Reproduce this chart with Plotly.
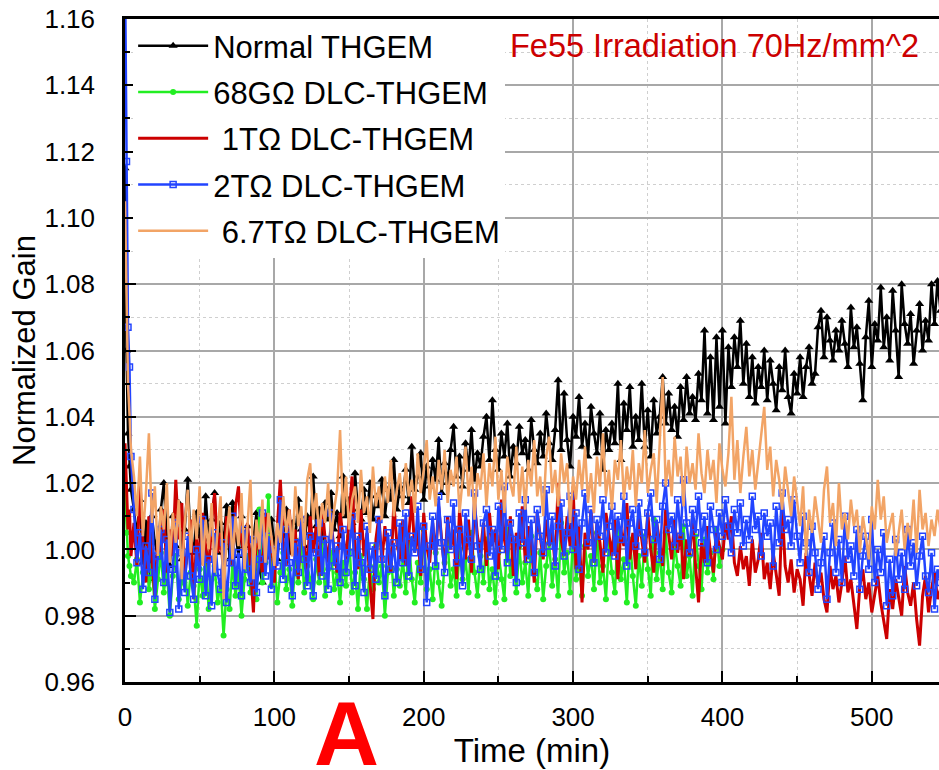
import plotly.graph_objects as go

# ---------------- data ----------------
time_min = [0, 1, 2, 3, 4] + list(range(6, 547, 2))

normal_thgem = [
    1.115, 1.060, 1.035, 1.025, 1.018,
    1.012, 1.004, 1.015, 0.996, 1.008, 0.991, 1.010, 1.002, 0.998, 1.012,
    1.020, 1.003, 0.995, 1.010, 1.001, 1.014, 0.997, 1.006, 1.021, 1.002,
    0.999, 1.011, 1.004, 0.996, 1.016, 1.003, 1.009, 1.017, 0.999, 1.008,
    1.002, 1.013, 0.997, 1.014, 1.005, 0.998, 1.010, 1.001, 1.007, 0.996,
    1.003, 1.011, 0.994, 0.990, 1.006, 0.998, 1.009, 1.002, 0.997, 1.008,
    1.004, 1.012, 0.999, 1.008, 1.003, 1.015, 1.006, 1.001, 1.010, 1.005,
    1.022, 1.007, 1.012, 1.003, 1.014, 1.009, 1.017, 1.006, 1.011, 1.004,
    1.022, 1.010, 1.015, 1.008, 1.023, 1.012, 1.009, 1.018, 1.011, 1.020,
    1.009, 1.016, 1.013, 1.021, 1.010, 1.018, 1.015, 1.027, 1.012, 1.019,
    1.016, 1.024, 1.014, 1.031, 1.018, 1.022, 1.029, 1.015, 1.025, 1.019,
    1.027, 1.021, 1.033, 1.017, 1.026, 1.020, 1.030, 1.037, 1.022, 1.028,
    1.019, 1.032, 1.024, 1.036, 1.021, 1.029, 1.025, 1.034, 1.040, 1.027,
    1.045, 1.030, 1.024, 1.035, 1.028, 1.038, 1.022, 1.031, 1.026, 1.037,
    1.029, 1.033, 1.024, 1.039, 1.030, 1.026, 1.035, 1.028, 1.041, 1.032,
    1.027, 1.036, 1.051, 1.030, 1.047, 1.033, 1.025, 1.040, 1.034, 1.046,
    1.031, 1.038, 1.028, 1.043, 1.035, 1.029, 1.041, 1.024, 1.036, 1.030,
    1.038, 1.032, 1.050, 1.027, 1.044, 1.036, 1.049, 1.031, 1.040, 1.033,
    1.050, 1.031, 1.042, 1.028, 1.045, 1.035, 1.040, 1.052, 1.038, 1.047,
    1.036, 1.043, 1.034, 1.049, 1.039, 1.052, 1.041, 1.046, 1.039, 1.053,
    1.045, 1.066, 1.041, 1.058, 1.039, 1.064, 1.043, 1.066, 1.038, 1.061,
    1.049, 1.064, 1.055, 1.069, 1.050, 1.062, 1.046, 1.058, 1.044, 1.055,
    1.049, 1.060, 1.045, 1.057, 1.050, 1.042, 1.055, 1.048, 1.060, 1.046,
    1.041, 1.053, 1.047, 1.058, 1.046, 1.055, 1.061, 1.050, 1.053, 1.067,
    1.072, 1.058, 1.070, 1.063, 1.057, 1.066, 1.060, 1.069, 1.062, 1.055,
    1.073, 1.061, 1.067, 1.056, 1.045, 1.064, 1.075, 1.055, 1.068, 1.063,
    1.079, 1.061, 1.070, 1.057, 1.078, 1.066, 1.052, 1.080, 1.068, 1.062,
    1.071, 1.056, 1.066, 1.074, 1.060, 1.069, 1.063, 1.080, 1.068, 1.081,
    1.072,
]

dlc_68g = [
    1.018, 1.005, 0.998, 0.995, 0.992,
    0.990, 0.997, 0.984, 0.993, 1.000, 0.988, 0.995, 0.982, 0.991, 0.999,
    0.987, 0.994, 0.980, 0.992, 0.998, 0.985, 0.990, 0.996, 0.983, 0.993,
    0.989, 0.977, 0.994, 0.986, 0.999, 0.982, 0.991, 0.995, 0.984, 0.990,
    0.974, 0.988, 0.982, 0.996, 0.986, 0.993, 0.980, 0.991, 0.998, 0.987,
    0.994, 0.985, 1.012, 0.990, 0.996, 1.016, 0.989, 0.997, 0.984, 0.993,
    0.999, 0.988, 0.994, 0.983, 0.996, 0.990, 1.003, 0.987, 0.995, 0.991,
    0.985, 0.997, 0.990, 1.002, 0.986, 0.994, 0.999, 0.988, 0.993, 0.984,
    0.996, 0.989, 1.004, 0.987, 0.993, 0.982, 0.998, 0.991, 0.982, 0.995,
    0.988, 1.001, 0.990, 0.995, 0.980, 0.993, 0.999, 0.986, 0.994, 0.989,
    0.997, 0.987, 1.003, 0.991, 0.984, 0.996, 0.990, 1.006, 0.988, 0.994,
    0.985, 0.999, 0.990, 0.983, 0.996, 1.002, 0.989, 0.994, 0.986, 1.000,
    0.991, 0.997, 0.987, 1.005, 0.993, 0.986, 0.998, 0.990, 1.003, 0.988,
    0.994, 0.984, 0.999, 0.991, 0.985, 1.006, 0.992, 0.997, 0.987, 1.001,
    0.990, 0.996, 0.986, 1.004, 0.993, 0.988, 0.999, 0.985, 0.995, 1.002,
    0.989, 0.997, 0.986, 1.008, 0.993, 0.999, 0.987, 1.004, 0.991, 0.996,
    0.986, 1.001, 0.992, 0.998, 0.988, 1.005, 0.990, 0.995, 0.985, 1.002,
    0.993, 0.987, 1.006, 0.991, 0.997, 0.984, 1.003, 0.992, 0.983, 0.998,
    0.989, 1.004, 0.994, 0.986, 1.009, 0.991, 0.999, 0.988, 1.005, 0.993,
    0.987, 1.002, 0.995, 0.989, 1.007, 0.992, 0.998, 0.986, 1.004, 0.995,
    0.988, 1.003, 0.993, 0.999, 0.991, 1.006, 0.995, 1.000,
]

dlc_1t = [
    1.032, 1.018, 1.006, 1.012, 0.998,
    1.008, 0.995, 1.021, 1.002, 0.990, 1.010, 0.997, 0.986, 1.004, 0.999,
    1.012, 0.993, 1.006, 0.998, 1.021, 1.003, 1.014, 0.992, 1.000, 1.009,
    0.985, 1.004, 0.996, 1.011, 1.001, 0.994, 1.008, 1.017, 0.999, 1.005,
    0.992, 1.010, 1.002, 0.995, 1.013, 1.019, 1.003, 0.998, 1.008, 0.996,
    0.981, 1.006, 1.000, 0.993, 1.011, 0.997, 1.004, 0.990, 1.007, 1.021,
    1.002, 0.995, 1.012, 0.998, 1.006, 0.991, 1.009, 1.001, 0.994, 1.010,
    0.999, 1.007, 0.992, 1.013, 1.003, 0.996, 1.008, 1.000, 0.993, 1.011,
    1.004, 0.997, 1.009, 1.022, 1.001, 0.994, 1.012, 0.998, 1.005, 0.990,
    0.979, 1.003, 1.010, 0.996, 1.007, 1.000, 0.993, 1.014, 1.002, 0.997,
    1.009, 0.995, 1.004, 1.016, 0.999, 1.006, 0.992, 1.011, 1.001, 0.996,
    1.008, 0.998, 1.013, 1.003, 0.994, 1.010, 1.000, 1.006, 0.991, 1.012,
    1.002, 0.997, 1.009, 0.993, 1.014, 1.004, 0.999, 1.008, 0.995, 1.011,
    1.001, 1.006, 0.994, 1.015, 1.003, 0.998, 1.010, 0.992, 1.005, 1.000,
    1.013, 0.996, 1.007, 1.002, 0.990, 1.011, 1.004, 0.997, 1.009, 1.001,
    1.006, 0.995, 1.020, 1.003, 0.998, 1.010, 1.001, 1.019, 0.994, 1.007,
    0.984, 1.005, 1.000, 1.012, 0.996, 1.008, 1.002, 0.993, 1.011, 1.004,
    0.998, 1.009, 0.991, 1.006, 1.001, 1.014, 0.997, 1.005, 0.994, 1.010,
    1.003, 0.996, 1.011, 1.000, 0.993, 1.008, 1.002, 0.995, 1.012, 1.004,
    0.997, 1.009, 0.999, 1.006, 0.991, 1.003, 0.998, 1.010, 0.995, 0.984,
    1.002, 0.996, 1.007, 0.999, 0.993, 1.005, 1.001, 0.997, 1.008, 1.003,
    1.010, 0.996, 0.992, 1.001, 0.994, 0.998, 0.989, 1.003, 0.993, 0.997,
    1.005, 0.991, 0.996, 0.988, 0.999, 0.993, 0.986, 1.013, 0.995, 0.990,
    0.997, 0.987, 0.994, 0.991, 0.983, 0.999, 0.992, 0.986, 0.996, 0.989,
    0.993, 0.985, 0.981, 0.995, 0.988, 0.992, 0.984, 0.990, 0.998, 0.987,
    0.991, 0.983, 0.976, 0.989, 0.994, 0.985, 0.990, 0.981, 0.987, 0.992,
    0.984, 0.978, 0.973, 0.988, 0.982, 0.991, 0.986, 0.980, 0.995, 0.987,
    0.983, 0.990, 0.979, 0.971, 0.986, 0.992, 0.981, 0.988, 0.993, 0.985,
    0.988,
]

dlc_2t = [
    1.175, 1.117, 1.067, 1.055, 1.028,
    1.012, 0.996, 1.005, 0.988, 1.001, 0.993, 1.017, 0.985, 0.998, 1.006,
    0.990, 1.003, 0.981, 0.994, 1.008, 0.982, 0.999, 0.987, 1.004, 0.992,
    0.985, 1.000, 0.991, 1.009, 0.986, 0.997, 0.983, 1.005, 0.993, 0.988,
    1.002, 0.984, 0.996, 1.010, 0.989, 0.999, 0.986, 1.006, 0.994, 0.990,
    1.003, 0.987, 0.997, 1.011, 0.992, 1.004, 0.988, 1.000, 0.995, 1.015,
    0.991, 1.006, 0.996, 0.986, 1.002, 0.993, 1.009, 0.997, 0.989, 1.004,
    0.986, 0.999, 1.008, 0.992, 1.003, 0.988, 1.011, 0.995, 1.001, 0.990,
    1.006, 0.993, 0.999, 1.010, 0.989, 1.004, 0.996, 0.987, 1.007, 0.994,
    1.001, 0.991, 1.009, 0.997, 0.986, 1.005, 0.994, 1.002, 0.990, 1.008,
    0.996, 1.011, 0.992, 1.004, 0.999, 1.013, 0.994, 1.007, 0.984, 1.001,
    1.010, 0.995, 1.016, 1.002, 0.993, 1.009, 1.000, 1.014, 0.996, 1.006,
    0.989, 1.011, 1.003, 0.997, 1.017, 1.001, 0.994, 1.008, 1.012, 0.998,
    1.006, 0.992, 1.013, 1.000, 1.019, 0.996, 1.008, 1.003, 0.990, 1.011,
    1.002, 1.015, 0.997, 1.009, 0.993, 1.012, 1.004, 0.999, 1.018, 1.001,
    1.010, 0.995, 1.007, 1.014, 0.998, 1.005, 1.016, 1.000, 1.011, 0.994,
    1.008, 1.017, 1.002, 1.012, 0.996, 1.009, 1.004, 1.015, 0.999, 1.007,
    1.013, 0.998, 1.010, 1.003, 1.016, 0.995, 1.008, 1.012, 1.001, 1.014,
    1.005, 0.999, 1.011, 1.017, 1.003, 1.009, 0.997, 1.013, 1.020, 1.006,
    1.010, 1.001, 1.015, 1.004, 1.021, 1.008, 0.999, 1.012, 1.005, 1.016,
    1.002, 1.010, 0.996, 1.013, 1.006, 1.000, 1.011, 1.004, 1.015, 1.007,
    0.999, 1.012, 1.005, 1.014, 1.001, 1.009, 1.003, 1.016, 1.006, 1.010,
    0.998, 1.011, 1.004, 1.008, 0.995, 1.013, 1.002, 1.017, 1.006, 1.009,
    1.001, 1.015, 1.004, 0.996, 1.010, 1.002, 0.993, 1.007, 0.999, 0.988,
    0.996, 1.004, 0.985, 0.999, 1.008, 0.993, 1.003, 0.990, 1.010, 0.997,
    1.001, 0.992, 1.006, 0.988, 0.998, 1.004, 0.994, 1.009, 0.990, 1.000,
    0.993, 1.005, 0.983, 0.997, 0.986, 1.003, 0.991, 0.999, 0.988, 1.006,
    0.995, 1.002, 0.989, 0.998, 1.004, 0.992, 0.987, 0.999, 0.982, 0.994,
    0.990,
]

dlc_6p7t = [
    1.105, 1.072, 1.050, 1.041, 1.030,
    1.022, 1.010, 1.028, 1.004, 1.017, 1.035, 1.008, 1.019, 0.998, 1.013,
    1.006, 1.020, 0.996, 1.011, 1.002, 1.015, 0.991, 1.008, 1.018, 0.999,
    1.012, 1.003, 1.019, 0.995, 1.009, 1.000, 1.014, 0.993, 1.006, 1.016,
    0.985, 1.004, 1.013, 0.997, 1.010, 1.001, 1.017, 0.994, 1.007, 1.021,
    0.991, 1.009, 1.000, 1.015, 0.996, 1.011, 1.004, 0.995, 1.008, 1.002,
    1.016, 1.005, 1.012, 0.998, 1.019, 1.007, 1.013, 1.001, 1.021, 1.026,
    1.009, 1.017, 1.004, 1.014, 1.008, 1.020, 1.003, 1.012, 1.018, 1.036,
    1.010, 1.022, 1.006, 1.015, 1.019, 1.008, 1.024, 1.011, 1.016, 1.005,
    1.025, 1.013, 1.019, 1.009, 1.022, 1.014, 1.027, 1.010, 1.018, 1.023,
    1.012, 1.026, 1.016, 1.021, 1.011, 1.029, 1.017, 1.024, 1.033, 1.015,
    1.022, 1.013, 1.027, 1.018, 1.030, 1.014, 1.024, 1.019, 1.028, 1.011,
    1.021, 1.031, 1.016, 1.025, 1.009, 1.023, 1.018, 1.029, 1.013, 1.026,
    1.019, 1.034, 1.015, 1.024, 1.011, 1.028, 1.020, 1.016, 1.031, 1.014,
    1.025, 1.012, 1.027, 1.019, 1.033, 1.016, 1.022, 1.010, 1.028, 1.034,
    1.017, 1.024, 1.013, 1.029, 1.020, 1.026, 1.008, 1.022, 1.015, 1.027,
    1.018, 1.031, 1.014, 1.023, 1.011, 1.028, 1.019, 1.035, 1.016, 1.024,
    1.012, 1.027, 1.021, 1.033, 1.015, 1.025, 1.018, 1.030, 1.013, 1.026,
    1.020, 1.036, 1.017, 1.024, 1.029, 1.014, 1.032, 1.052, 1.019, 1.027,
    1.016, 1.034, 1.022, 1.028, 1.013, 1.031, 1.020, 1.026, 1.018, 1.035,
    1.023, 1.017, 1.030, 1.021, 1.027, 1.014, 1.032, 1.024, 1.019, 1.029,
    1.046, 1.021, 1.033, 1.017, 1.028, 1.037, 1.022, 1.030, 1.018, 1.026,
    1.034, 1.043, 1.024, 1.031, 1.016, 1.027, 1.021, 1.012, 1.025, 1.018,
    1.010, 1.022, 1.014, 1.007, 1.019, 0.998, 1.012, 1.005, 1.016, 1.009,
    1.002, 1.018, 1.025, 1.008, 1.014, 1.001, 1.020, 1.006, 1.011, 1.003,
    1.015, 1.007, 1.012, 0.999, 1.010, 1.004, 0.997, 1.013, 1.006, 1.021,
    1.009, 1.016, 1.002, 1.007, 1.011, 0.998, 1.005, 1.012, 1.000, 1.008,
    1.003, 1.015, 0.999, 1.018, 1.006, 1.011, 1.001, 1.009, 1.004, 1.012,
    1.006,
]

series_names = ["Normal THGEM", "68GΩ DLC-THGEM", " 1TΩ DLC-THGEM",
                "2TΩ DLC-THGEM", " 6.7TΩ DLC-THGEM"]
y_tick_vals = [0.96, 0.98, 1.00, 1.02, 1.04, 1.06, 1.08, 1.10, 1.12, 1.14, 1.16]
x_tick_vals = [0, 100, 200, 300, 400, 500]

FONT = "Liberation Sans, Arial, sans-serif"

fig = go.Figure()

styles = [
    (normal_thgem, dict(color="#000000", width=2.5),
     dict(symbol="triangle-up", size=8, color="#000000")),
    (dlc_68g, dict(color="#22ee22", width=2.5),
     dict(symbol="circle", size=6, color="#22ee22")),
    (dlc_1t, dict(color="#cc0000", width=3), None),
    (dlc_2t, dict(color="#2244ff", width=2.5),
     dict(symbol="square-open", size=6, color="#2244ff", line=dict(width=1.5, color="#2244ff"))),
    (dlc_6p7t, dict(color="#f2a466", width=2.5), None),
]

for i, (vals, line, marker) in enumerate(styles):
    kw = dict(x=time_min[:len(vals)], y=vals, name=series_names[i],
              line=line, legendgroup=f"g{i}")
    if marker is None:
        kw["mode"] = "lines"
    else:
        kw["mode"] = "lines+markers"
        kw["marker"] = marker
    fig.add_trace(go.Scatter(**kw))

fig.add_annotation(text="Fe55 Irradiation 70Hz/mm^2", xref="paper", yref="paper",
                   x=0.471, y=0.959, xanchor="left", yanchor="middle", showarrow=False,
                   font=dict(family=FONT, size=32.5, color="#cc0000"))
fig.add_annotation(text="<b>A</b>", xref="paper", yref="paper",
                   x=0.2715, y=0.0, xanchor="center", yanchor="top", showarrow=False,
                   font=dict(family=FONT, size=90, color="#ff0000"))

fig.update_layout(
    width=939, height=770,
    margin=dict(l=125, r=0, t=19, b=88, autoexpand=False),
    paper_bgcolor="white", plot_bgcolor="white",
    font=dict(family=FONT, color="black"),
    showlegend=True,
    legend=dict(x=0.01, y=1, xanchor="left", yanchor="top",
                bgcolor="white", borderwidth=0,
                font=dict(family=FONT, size=31, color="black"),
                itemwidth=70, tracegroupgap=3, itemsizing="trace"),
    xaxis=dict(range=[0, 545], tickvals=x_tick_vals, ticks="inside", ticklen=11,
               tickwidth=2, tickcolor="black", showline=True, linecolor="black",
               linewidth=2.5, mirror=True, showgrid=True, gridcolor="#a8a8a8",
               gridwidth=1.5, zeroline=False,
               tickfont=dict(family=FONT, size=26, color="black"),
               ticklabelstandoff=10,
               title=dict(text="Time (min)", font=dict(family=FONT, size=33, color="black"),
                          standoff=1),
               minor=dict(dtick=50, ticks="inside", ticklen=6, tickwidth=2,
                          tickcolor="black", showgrid=True, gridcolor="#cfcfcf",
                          griddash="dot", gridwidth=1)),
    yaxis=dict(range=[0.96, 1.16], tickvals=y_tick_vals, tickformat=".2f",
               ticks="inside", ticklen=11, tickwidth=2, tickcolor="black",
               showline=True, linecolor="black", linewidth=2.5, mirror=False,
               showgrid=True, gridcolor="#a8a8a8", gridwidth=1.5, zeroline=False,
               tickfont=dict(family=FONT, size=26, color="black"),
               ticklabelstandoff=22,
               title=dict(text="Normalized Gain\u00a0\u00a0\u00a0",
                          font=dict(family=FONT, size=31, color="black"),
                          standoff=0),
               minor=dict(dtick=0.01, ticks="inside", ticklen=5, tickwidth=2,
                          tickcolor="black", showgrid=True, gridcolor="#cfcfcf",
                          griddash="dot", gridwidth=1)),
)

fig.write_html("out.html")
